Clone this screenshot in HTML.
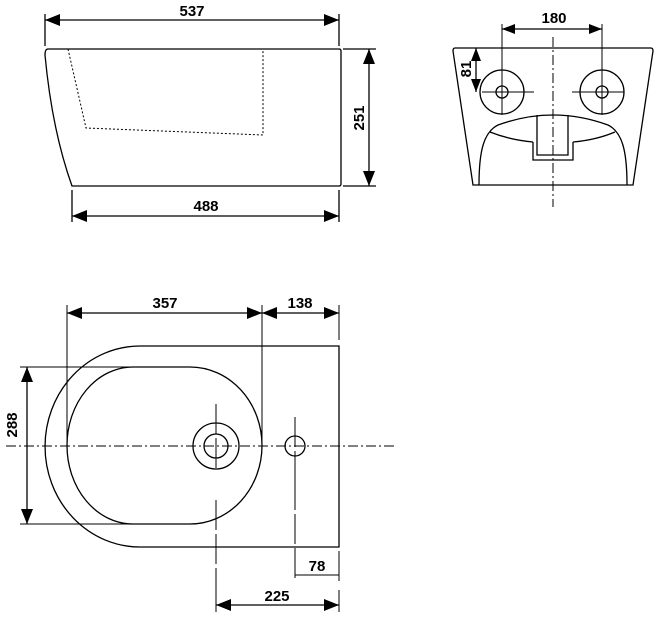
<!DOCTYPE html>
<html><head><meta charset="utf-8"><style>html,body{margin:0;padding:0;background:#fff}svg{display:block}text{font-family:"Liberation Sans",sans-serif;font-weight:bold;font-size:15px;fill:#000}</style></head><body>
<svg width="657" height="618" viewBox="0 0 657 618" xmlns="http://www.w3.org/2000/svg">
<g fill="none" stroke="#000" stroke-width="1.3">
<!-- side view -->
<path d="M48,49 L339,49 Q341,49 341,51 L341,184 Q341,186 339,186 L72,186 Q52,130 45,55 Q45,49 48,49 Z"/>
<path d="M68,49 L86,128 L263,135 L263,49" stroke-dasharray="2,2" stroke-width="1"/>
<path d="M45,14V46M339,14V46M72,190V222M339,190V222M343,49H376M343,186H376"/>
<path d="M45,20H339M72,216H339M369,49V186"/>
<!-- front view -->
<path d="M455,48 L651,48 Q653,48 653,51 L633,185 L473,185 L453,51 Q453,48 455,48 Z"/>
<path d="M479,185 C479,150 484,132 498,125 Q553,105 608,125 C622,132 627,150 627,185"/>
<path d="M490,132 Q510,140 533,142 M573,142 Q596,140 615,132"/>
<path d="M537,115V155H568V115M533,142V160H573V142"/>
<circle cx="502" cy="92" r="22"/><circle cx="502" cy="92" r="6"/>
<circle cx="602" cy="92" r="22"/><circle cx="602" cy="92" r="6"/>
<path d="M482,92H534M572,92H624M502,24V115M602,24V115" stroke-width="1"/>
<path d="M553,37V207" stroke-dasharray="10,3,2,3" stroke-width="1"/>
<path d="M502,29H602M476,48V92"/>
<!-- top view -->
<path d="M140,346 L339,346 L339,547 L140,547 A95,100.5 0 0 1 140,346 Z"/>
<path d="M133,367 L190,367 A72,78.5 0 0 1 190,524 L133,524 A66,78.5 0 0 1 133,367 Z"/>
<circle cx="216" cy="446" r="23"/><circle cx="216" cy="446" r="12"/>
<circle cx="295" cy="446" r="10"/>
<path d="M6,446H395" stroke-dasharray="10,3,2,3" stroke-width="1"/>
<path d="M216,404V470M216,500V612M295,417V481M295,480V580" stroke-width="1" stroke-dasharray="30,4"/>
<path d="M67,305V447M262,305V445M339,305V340M20,367H133M20,524H130M295,575H339M339,551V581M216,598V612M339,590V612" stroke-width="1"/>
<path d="M67,313H339M27,367V524M216,605H339"/>
</g>
<g fill="#000">
<polygon points="45,20 60,14 60,26"/><polygon points="339,20 324,14 324,26"/>
<polygon points="72,216 87,210 87,222"/><polygon points="339,216 324,210 324,222"/>
<polygon points="369,49 363,64 375,64"/><polygon points="369,186 363,171 375,171"/>
<polygon points="502,29 515,24 515,34"/><polygon points="602,29 589,24 589,34"/>
<polygon points="476,48 471,61 481,61"/><polygon points="476,92 471,79 481,79"/>
<polygon points="67,313 82,307 82,319"/><polygon points="262,313 247,307 247,319"/>
<polygon points="262,313 277,307 277,319"/><polygon points="339,313 324,307 324,319"/>
<polygon points="27,367 21,382 33,382"/><polygon points="27,524 21,509 33,509"/>
<polygon points="216,605 231,599 231,611"/><polygon points="339,605 324,599 324,611"/>
</g>
<text x="192" y="16" text-anchor="middle">537</text>
<text x="206" y="211" text-anchor="middle">488</text>
<text transform="translate(364,118) rotate(-90)" text-anchor="middle">251</text>
<text x="554" y="23" text-anchor="middle">180</text>
<text transform="translate(471,69) rotate(-90)" text-anchor="middle">81</text>
<text x="165" y="308" text-anchor="middle">357</text>
<text x="300" y="308" text-anchor="middle">138</text>
<text transform="translate(17,425) rotate(-90)" text-anchor="middle">288</text>
<text x="317" y="571" text-anchor="middle">78</text>
<text x="277" y="601" text-anchor="middle">225</text>
</svg>
</body></html>
